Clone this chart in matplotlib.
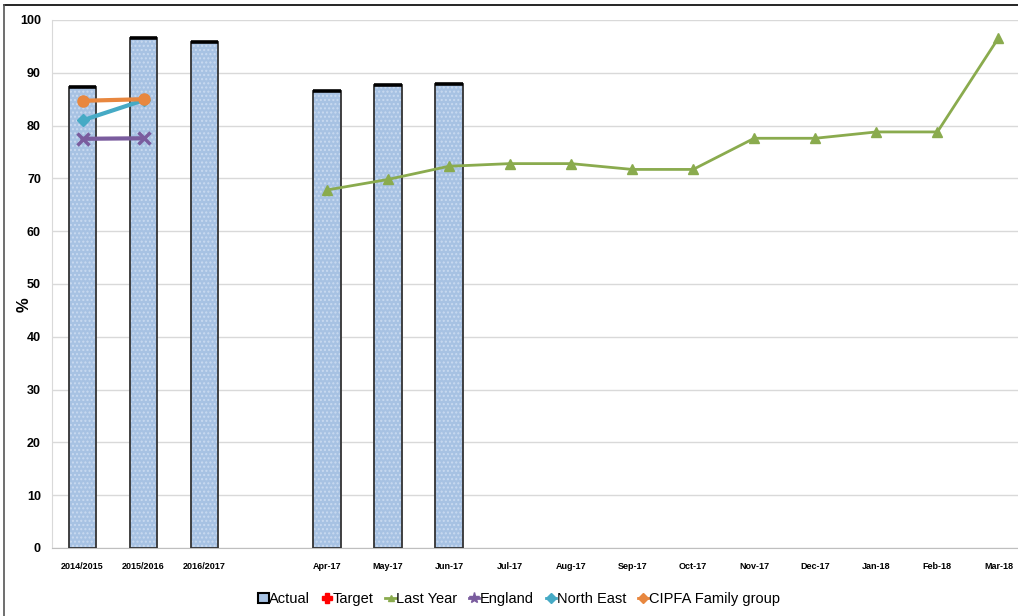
import numpy as np
import matplotlib
matplotlib.use("Agg")
import matplotlib.pyplot as plt
from matplotlib.patches import Patch
from matplotlib.lines import Line2D

plt.rcParams['font.family'] = ['Liberation Sans Narrow', 'Liberation Sans', 'DejaVu Sans']

# categories: three annual columns, a gap, then monthly columns
categories = ["2014/2015", "2015/2016", "2016/2017", "",
              "Apr-17", "May-17", "Jun-17", "Jul-17", "Aug-17", "Sep-17",
              "Oct-17", "Nov-17", "Dec-17", "Jan-18", "Feb-18", "Mar-18"]
nan = np.nan
actual = [87.3, 96.6, 95.9, nan, 86.6, 87.6, 87.8, nan, nan, nan, nan, nan, nan, nan, nan, nan]
target = [nan] * 16
last_year = [nan, nan, nan, nan, 67.8, 69.8, 72.3, 72.8, 72.8, 71.7, 71.7, 77.6, 77.6, 78.8, 78.8, 96.6]
england = [77.5, 77.6]
north_east = [81.0, 84.8]
cipfa = [84.7, 85.0]

x = np.arange(len(categories))
fig = plt.figure(figsize=(10.18, 6.16), dpi=100)
ax = fig.add_axes([52 / 1018, 68 / 616, 977 / 1018, 528 / 616])

bar_w = 0.45
vals = np.array(actual)
# dotted blue fill, then the dark outline and heavier top edge
ax.bar(x, vals, width=bar_w, color="#A7C2E3", hatch="....", edgecolor="#C9DAF0", linewidth=0, zorder=2)
ax.bar(x, vals, width=bar_w, facecolor="none", edgecolor="#333333", linewidth=1.3, zorder=3)
ax.hlines(vals, x - bar_w / 2, x + bar_w / 2, color="black", linewidth=2.6, zorder=4)

ax.plot(x, target, color="#FF0000", marker="P", zorder=5)
ax.plot(x, last_year, color="#8AAB4E", linewidth=2, marker="^", markersize=6.5, zorder=5)
ax.plot(x[:2], england, color="#7A5C9E", linewidth=3, marker="x", markersize=8,
        markeredgewidth=2.5, zorder=6)
ax.plot(x[:2], north_east, color="#46AAC5", linewidth=3, marker="D", markersize=6, zorder=6)
ax.plot(x[:2], cipfa, color="#E8873F", linewidth=3, marker="o", markersize=8, zorder=6)

ax.set_xlim(-0.5, len(categories) - 0.5)
ax.set_ylim(0, 100)
ax.set_yticks(range(0, 101, 10))
ax.set_xticks(x)
ax.set_xticklabels(categories, fontsize=6.5, fontweight="bold")
ax.tick_params(axis="y", labelsize=9, length=0, pad=8)
ax.tick_params(axis="x", length=0, pad=10)
for lab in ax.get_yticklabels():
    lab.set_fontweight("bold")
ax.grid(axis="y", color="#D9D9D9", linewidth=1, zorder=0)
ax.set_axisbelow(True)
for side in ["top", "right"]:
    ax.spines[side].set_visible(False)
ax.spines["left"].set_color("#D9D9D9")
ax.spines["bottom"].set_color("#BFBFBF")
ax.set_ylabel("%", fontsize=12, fontweight="bold")
ax.yaxis.set_label_coords(-20 / 977, 0.46)

handles = [
    Patch(facecolor="#A7C2E3", edgecolor="black", linewidth=1.5),
    Line2D([], [], color="#FF0000", marker="P", markersize=7, linestyle="none"),
    Line2D([], [], color="#8AAB4E", marker="^", markersize=5, linewidth=2),
    Line2D([], [], color="#7A5C9E", marker="*", markersize=8, linewidth=2),
    Line2D([], [], color="#46AAC5", marker="D", markersize=5, linewidth=2),
    Line2D([], [], color="#E8873F", marker="D", markersize=5, linewidth=2),
]
labels = ["Actual", "Target", "Last Year", "England", "North East", "CIPFA Family group"]
fig.legend(handles, labels, loc="center", bbox_to_anchor=(519 / 1018, 1 - 599 / 616),
           ncol=6, frameon=False, fontsize=10.5, handlelength=0.7, handletextpad=0.05,
           columnspacing=0.8, borderpad=0.2)

# outer frame along the top and left of the image
fig.add_artist(Line2D([4 / 1018, 1], [1 - 5 / 616, 1 - 5 / 616], color="black", linewidth=1.2))
fig.add_artist(Line2D([4 / 1018, 4 / 1018], [0, 1 - 5 / 616], color="#555555", linewidth=1.2))

fig.savefig("out.png", dpi=100)
